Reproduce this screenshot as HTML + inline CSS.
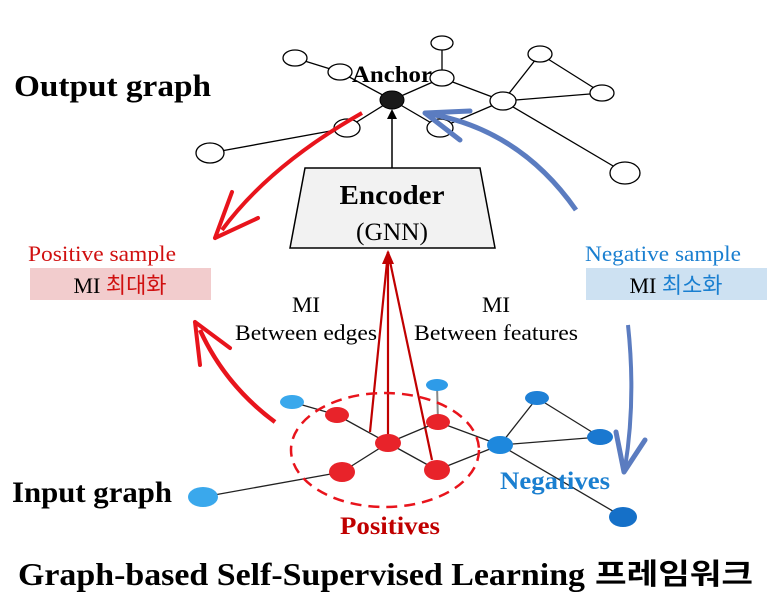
<!DOCTYPE html>
<html><head><meta charset="utf-8"><style>
html,body{margin:0;padding:0;background:#fff;}
svg{display:block;}
text{font-family:"Liberation Serif","Noto Serif CJK SC",serif;}
.k{font-family:"Liberation Serif","Noto Sans CJK KR",sans-serif;}
</style></head><body>
<svg width="784" height="612" viewBox="0 0 784 612" xmlns="http://www.w3.org/2000/svg">
<defs>
<marker id="ab" markerWidth="10" markerHeight="10" refX="5" refY="5" orient="auto" markerUnits="userSpaceOnUse"><path d="M0,0 L10,5 L0,10 z" fill="#000"/></marker>
</defs>
<g stroke="#000" stroke-width="1.3" fill="none">
<line x1="295" y1="58" x2="340" y2="72"/>
<line x1="340" y1="72" x2="392" y2="100"/>
<line x1="392" y1="100" x2="442" y2="78"/>
<line x1="442" y1="43" x2="442" y2="78"/>
<line x1="442" y1="78" x2="503" y2="101"/>
<line x1="503" y1="101" x2="540" y2="54"/>
<line x1="540" y1="54" x2="602" y2="93"/>
<line x1="503" y1="101" x2="602" y2="93"/>
<line x1="503" y1="101" x2="625" y2="173"/>
<line x1="392" y1="100" x2="347" y2="128"/>
<line x1="347" y1="128" x2="210" y2="153"/>
<line x1="392" y1="100" x2="440" y2="128"/>
<line x1="440" y1="128" x2="503" y2="101"/>
</g>
<g stroke="#000" stroke-width="1.3" fill="#fff">
<ellipse cx="295" cy="58" rx="12" ry="8"/>
<ellipse cx="340" cy="72" rx="12" ry="8"/>
<ellipse cx="442" cy="43" rx="11" ry="7"/>
<ellipse cx="442" cy="78" rx="12" ry="8"/>
<ellipse cx="540" cy="54" rx="12" ry="8"/>
<ellipse cx="503" cy="101" rx="13" ry="9"/>
<ellipse cx="602" cy="93" rx="12" ry="8"/>
<ellipse cx="347" cy="128" rx="13" ry="9"/>
<ellipse cx="440" cy="128" rx="13" ry="9"/>
<ellipse cx="210" cy="153" rx="14" ry="10"/>
<ellipse cx="625" cy="173" rx="15" ry="11"/>
</g>
<ellipse cx="392" cy="100" rx="12" ry="9" fill="#1a1a1a" stroke="#000"/>
<text x="392" y="82" text-anchor="middle" font-size="23" font-weight="bold" textLength="80" lengthAdjust="spacingAndGlyphs">Anchor</text>
<line x1="392" y1="168" x2="392" y2="114" stroke="#000" stroke-width="1.5" marker-end="url(#ab)"/>
<polygon points="305,168 480,168 495,248 290,248" fill="#f2f2f2" stroke="#000" stroke-width="1.5"/>
<text x="392" y="204" text-anchor="middle" font-size="27" font-weight="bold" textLength="105" lengthAdjust="spacingAndGlyphs">Encoder</text>
<text x="392" y="240" text-anchor="middle" font-size="25" textLength="72" lengthAdjust="spacingAndGlyphs">(GNN)</text>
<path d="M362,113 Q270,165 222,230" stroke="#e8141c" stroke-width="4" fill="none"/>
<path d="M215,238 L232,192 M215,238 L258,218" stroke="#e8141c" stroke-width="4" fill="none" stroke-linecap="round"/>
<path d="M576,210 Q520,130 430,114" stroke="#5b7cc0" stroke-width="5" fill="none"/>
<path d="M425,113 L470,111 M425,113 L460,140" stroke="#5b7cc0" stroke-width="5" fill="none" stroke-linecap="round"/>
<text x="14" y="96" font-size="31" font-weight="bold" textLength="197" lengthAdjust="spacingAndGlyphs">Output graph</text>
<text x="12" y="502" font-size="30" font-weight="bold" textLength="160" lengthAdjust="spacingAndGlyphs">Input graph</text>
<text x="28" y="261" font-size="22" fill="#d01010" textLength="148" lengthAdjust="spacingAndGlyphs">Positive sample</text>
<rect x="30" y="268" width="181" height="32" fill="#f2cccd"/>
<text x="120" y="293" text-anchor="middle" font-size="22" class="k"><tspan fill="#000">MI </tspan><tspan fill="#d01010">최대화</tspan></text>
<text x="585" y="261" font-size="22" fill="#1a7fd0" textLength="156" lengthAdjust="spacingAndGlyphs">Negative sample</text>
<rect x="586" y="268" width="181" height="32" fill="#cde1f2"/>
<text x="676" y="293" text-anchor="middle" font-size="22" class="k"><tspan fill="#000">MI </tspan><tspan fill="#1a7fd0">최소화</tspan></text>
<text x="306" y="312" text-anchor="middle" font-size="22" textLength="28" lengthAdjust="spacingAndGlyphs">MI</text>
<text x="306" y="340" text-anchor="middle" font-size="22" textLength="142" lengthAdjust="spacingAndGlyphs">Between edges</text>
<text x="496" y="312" text-anchor="middle" font-size="22" textLength="28" lengthAdjust="spacingAndGlyphs">MI</text>
<text x="496" y="340" text-anchor="middle" font-size="22" textLength="164" lengthAdjust="spacingAndGlyphs">Between features</text>
<path d="M275,422 Q225,385 200,330" stroke="#e8141c" stroke-width="4.5" fill="none"/>
<path d="M195,322 L200,365 M195,322 L230,348" stroke="#e8141c" stroke-width="4" fill="none" stroke-linecap="round"/>
<path d="M628,325 Q636,400 625,468" stroke="#5b7cc0" stroke-width="4" fill="none"/>
<path d="M624,472 L616,432 M624,472 L645,440" stroke="#5b7cc0" stroke-width="5" fill="none" stroke-linecap="round"/>
<g stroke="#c00000" stroke-width="2.2" fill="none">
<line x1="388" y1="252" x2="370" y2="432"/>
<line x1="388" y1="252" x2="388" y2="443"/>
<line x1="388" y1="252" x2="432" y2="460"/>
</g>
<polygon points="388,250 382,264 394,264" fill="#c00000"/>
<g stroke="#222" stroke-width="1.3">
<line x1="292" y1="402" x2="337" y2="415"/>
<line x1="337" y1="415" x2="388" y2="443"/>
<line x1="388" y1="443" x2="438" y2="422"/>
<line x1="438" y1="422" x2="500" y2="445"/>
<line x1="388" y1="443" x2="437" y2="470"/>
<line x1="388" y1="443" x2="342" y2="472"/>
<line x1="342" y1="472" x2="203" y2="497"/>
<line x1="437" y1="470" x2="500" y2="445"/>
<line x1="500" y1="445" x2="537" y2="398"/>
<line x1="500" y1="445" x2="600" y2="437"/>
<line x1="537" y1="398" x2="600" y2="437"/>
<line x1="500" y1="445" x2="623" y2="517"/>
</g>
<line x1="437" y1="385" x2="438" y2="422" stroke="#888" stroke-width="2"/>
<ellipse cx="385" cy="450" rx="94" ry="57" fill="none" stroke="#e8141c" stroke-width="2.5" stroke-dasharray="11,7"/>
<g fill="#e8232a">
<ellipse cx="337" cy="415" rx="12" ry="8"/>
<ellipse cx="388" cy="443" rx="13" ry="9"/>
<ellipse cx="438" cy="422" rx="12" ry="8"/>
<ellipse cx="342" cy="472" rx="13" ry="10"/>
<ellipse cx="437" cy="470" rx="13" ry="10"/>
</g>
<g>
<ellipse cx="292" cy="402" rx="12" ry="7" fill="#3aa8ec"/>
<ellipse cx="437" cy="385" rx="11" ry="6" fill="#2e9be8"/>
<ellipse cx="203" cy="497" rx="15" ry="10" fill="#3aa8ec"/>
<ellipse cx="500" cy="445" rx="13" ry="9" fill="#1e88dd"/>
<ellipse cx="537" cy="398" rx="12" ry="7" fill="#1e80d6"/>
<ellipse cx="600" cy="437" rx="13" ry="8" fill="#1a78d0"/>
<ellipse cx="623" cy="517" rx="14" ry="10" fill="#1570c8"/>
</g>
<text x="500" y="489" font-size="25" font-weight="bold" fill="#1a7fd0" textLength="110" lengthAdjust="spacingAndGlyphs">Negatives</text>
<text x="340" y="534" font-size="25" font-weight="bold" fill="#c00000" textLength="100" lengthAdjust="spacingAndGlyphs">Positives</text>
<text x="18" y="585" font-size="32" font-weight="bold" textLength="567" lengthAdjust="spacingAndGlyphs">Graph-based Self-Supervised Learning</text>
<text x="595" y="584" font-size="29" font-weight="bold" class="k" textLength="158" lengthAdjust="spacingAndGlyphs">프레임워크</text>
</svg>
</body></html>
